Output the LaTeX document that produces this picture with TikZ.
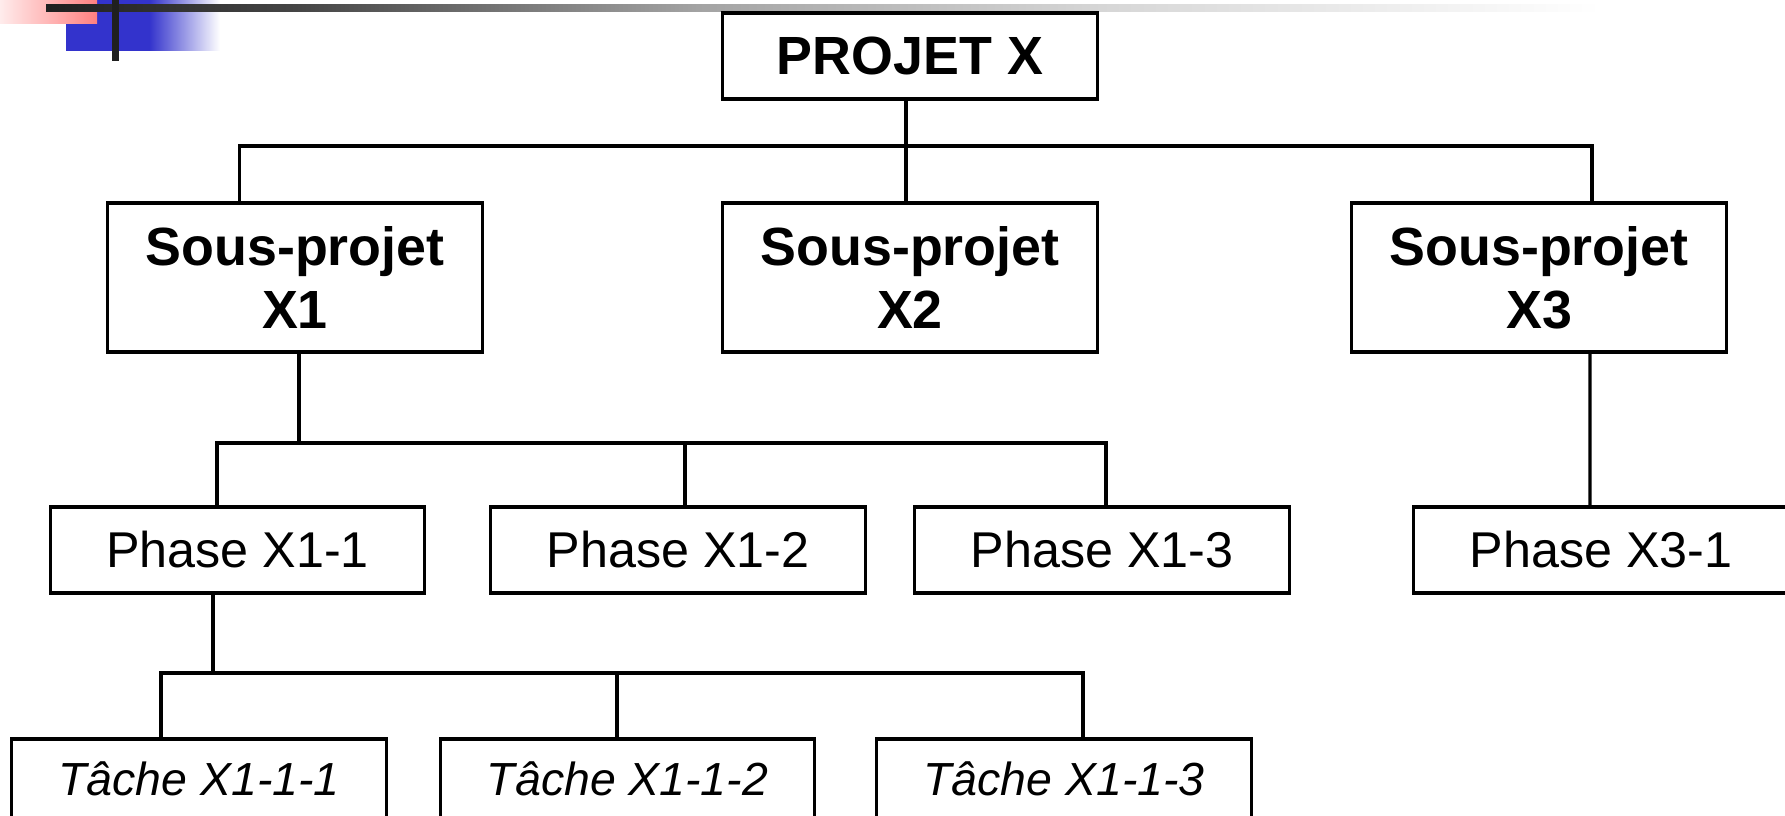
\documentclass[tikz,border=0pt]{standalone}
\usepackage{fontspec}
\setmainfont{Liberation Sans}
\usepackage{tikz}
\usetikzlibrary{positioning}
\usepackage{xcolor}

\definecolor{blockblue}{RGB}{51,51,204}
\definecolor{blockpink}{RGB}{255,128,128}

% bar and block fades for the slide header
\pgfdeclarehorizontalshading{barfade}{100bp}{color(0bp)=(black!88); color(25bp)=(black!88); color(33bp)=(black!73); color(46bp)=(black!36); color(59bp)=(black!16); color(75bp)=(white); color(100bp)=(white)}
\pgfdeclarehorizontalshading{bluefade}{100bp}{color(0bp)=(blockblue); color(52bp)=(blockblue); color(75bp)=(white); color(100bp)=(white)}

\tikzstyle{box}    = [draw, fill=white, line width=0.9pt, inner sep=0pt, outer sep=0pt, minimum width=3.74cm, align=center]
\tikzstyle{proj}   = [box, minimum height=0.86cm, font=\fontsize{15.3}{18}\selectfont\bfseries]
\tikzstyle{sproj}  = [box, minimum height=1.49cm, font=\fontsize{15.3}{18}\selectfont\bfseries]
\tikzstyle{phase}  = [box, minimum height=0.86cm, font=\fontsize{14.3}{17}\selectfont]
\tikzstyle{tache}  = [box, minimum height=0.80cm, font=\fontsize{13.2}{16}\selectfont\itshape]
\tikzstyle{link}   = [line width=0.9pt]

\begin{document}
\begin{tikzpicture}[x=0.01cm, y=-0.01cm]

\useasboundingbox (0,0) rectangle (1785,816);
\clip (0,0) rectangle (1785,816);

% header
\shade[shading=bluefade] (66,0) rectangle (220,51);
\shade[left color=blockpink!15, right color=blockpink] (0,0) rectangle (97,24);
\shade[shading=barfade] (46,5) rectangle (1600,12);
\fill[black!88] (112,0) rectangle (119,61);

% tree
\node[proj] (P0)   at (910,56) {PROJET X};

\node[sproj] (S1)  at (295,277.5) {Sous-projet\\X1};
\node[sproj] (S2)  at (910,277.5) {Sous-projet\\X2};
\node[sproj] (S3)  at (1539,277.5) {Sous-projet\\X3};

\node[phase] (F11) at (237.5,550) {Phase X1-1};
\node[phase] (F12) at (678,550) {Phase X1-2};
\node[phase] (F13) at (1102,550) {Phase X1-3};
\node[phase] (F31) at (1601,550) {Phase X3-1};

\node[tache] (T111) at (199,779) {Tâche X1-1-1};
\node[tache] (T112) at (627.5,779) {Tâche X1-1-2};
\node[tache] (T113) at (1064,779) {Tâche X1-1-3};

\draw[link] ([xshift=-0.04cm]P0.south) -- ([xshift=-0.04cm]S2.north);
\draw[link] ([xshift=-0.555cm]S1.north) -- ++(0,-57) -| ([xshift=0.53cm]S3.north);

\draw[link] ([xshift=0.04cm]S1.south) -- ++(0,91);
\draw[link] ([xshift=-0.205cm]F11.north) -- ++(0,-64) -| ([xshift=0.04cm]F13.north);
\draw[link] ([xshift=0.07cm]F12.north) -- ++(0,-64);
\draw[link] ([xshift=0.51cm]S3.south) -- ([xshift=-0.11cm]F31.north);

\draw[link] ([xshift=-0.245cm]F11.south) -- ++(0,80);
\draw[link] ([xshift=-0.38cm]T111.north) -- ++(0,-66) -| ([xshift=0.19cm]T113.north);
\draw[link] ([xshift=-0.105cm]T112.north) -- ++(0,-66);

\end{tikzpicture}
\end{document}
